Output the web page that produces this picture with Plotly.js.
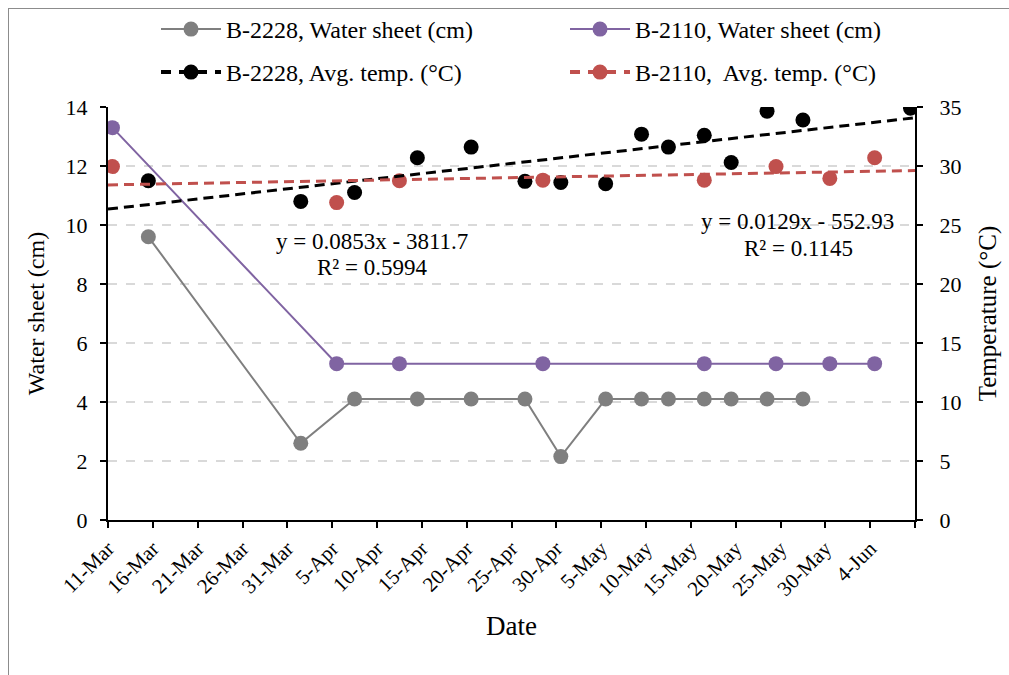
<!DOCTYPE html>
<html><head><meta charset="utf-8">
<script src="https://cdn.plot.ly/plotly-3.0.1.min.js"></script>
<style>html,body{margin:0;padding:0;background:#fff;} #chart{width:1009px;height:675px;}</style>
</head><body><div id="chart"></div>
<script>
// ---- data ----
const grayDates = ['2023-03-15','2023-04-01','2023-04-07','2023-04-14','2023-04-20','2023-04-26','2023-04-30','2023-05-05','2023-05-09','2023-05-12','2023-05-16','2023-05-19','2023-05-23','2023-05-27'];
const grayWater = [9.6, 2.6, 4.1, 4.1, 4.1, 4.1, 2.15, 4.1, 4.1, 4.1, 4.1, 4.1, 4.1, 4.1];
const purpleDates = ['2023-03-11','2023-04-05','2023-04-12','2023-04-28','2023-05-16','2023-05-24','2023-05-30','2023-06-04'];
const purpleWater = [13.3, 5.3, 5.3, 5.3, 5.3, 5.3, 5.3, 5.3];
const blackDates = ['2023-03-15','2023-04-01','2023-04-07','2023-04-14','2023-04-20','2023-04-26','2023-04-30','2023-05-05','2023-05-09','2023-05-12','2023-05-16','2023-05-19','2023-05-23','2023-05-27','2023-06-08'];
const blackTemp = [28.75, 27.0, 27.75, 30.7, 31.6, 28.7, 28.6, 28.5, 32.7, 31.6, 32.6, 30.3, 34.65, 33.9, 34.9];
const redDates = ['2023-03-11','2023-04-05','2023-04-12','2023-04-28','2023-05-16','2023-05-24','2023-05-30','2023-06-04'];
const redTemp = [29.95, 26.9, 28.75, 28.8, 28.8, 29.95, 28.95, 30.7];
const tickDates = ['2023-03-11','2023-03-16','2023-03-21','2023-03-26','2023-03-31','2023-04-05','2023-04-10','2023-04-15','2023-04-20','2023-04-25','2023-04-30','2023-05-05','2023-05-10','2023-05-15','2023-05-20','2023-05-25','2023-05-30','2023-06-04','2023-06-09'];
const tickLabels = ['11-Mar','16-Mar','21-Mar','26-Mar','31-Mar','5-Apr','10-Apr','15-Apr','20-Apr','25-Apr','30-Apr','5-May','10-May','15-May','20-May','25-May','30-May','4-Jun',''];
const seriesNames = ['B-2228, Water sheet (cm)','B-2110, Water sheet (cm)','B-2228, Avg. temp. (°C)','B-2110,  Avg. temp. (°C)'];
const eqBlack = ['y = 0.0853x - 3811.7','R² = 0.5994'];
const eqRed = ['y = 0.0129x - 552.93','R² = 0.1145'];

// ---- helpers ----
const HALF = 12*3600*1000;
const toMs = s => new Date(s + 'T00:00:00Z').getTime();
const fmt = ms => new Date(ms).toISOString().replace('T',' ').slice(0,19);
// Excel date axis "between tick marks": each tick sits half a day before its date
const tickVals = tickDates.map(d => fmt(toMs(d) - HALF));
const xRange = [tickVals[0], tickVals[tickVals.length-1]];

function trend(dates, vals) {
  const xs = dates.map(toMs), n = xs.length;
  const mx = xs.reduce((a,b)=>a+b,0)/n, my = vals.reduce((a,b)=>a+b,0)/n;
  let sxy=0, sxx=0;
  for (let i=0;i<n;i++){ sxy += (xs[i]-mx)*(vals[i]-my); sxx += (xs[i]-mx)**2; }
  const b = sxy/sxx;
  const ends = xRange.map(s => new Date(s.replace(' ','T')+'Z').getTime());
  return {x: xRange, y: ends.map(e => my + b*(e-mx))};
}
const tB = trend(blackDates, blackTemp);
const tR = trend(redDates, redTemp);

const FONT = 'Liberation Serif, Times New Roman, serif';
const GRAY = '#7f7f7f', PURPLE = '#8064a2', RED = '#c0504d', BLACK = '#000000';

const traces = [
  {x: grayDates, y: grayWater, name: seriesNames[0], mode: 'lines+markers', yaxis: 'y', legend: 'legend',
   line: {color: GRAY, width: 2}, marker: {color: GRAY, size: 15}},
  {x: purpleDates, y: purpleWater, name: seriesNames[1], mode: 'lines+markers', yaxis: 'y', legend: 'legend2',
   line: {color: PURPLE, width: 2}, marker: {color: PURPLE, size: 15}},
  {x: blackDates, y: blackTemp, name: seriesNames[2], mode: 'markers', yaxis: 'y2', showlegend: false,
   marker: {color: BLACK, size: 15}},
  {x: redDates, y: redTemp, name: seriesNames[3], mode: 'markers', yaxis: 'y2', showlegend: false,
   marker: {color: RED, size: 15}},
  {x: tB.x, y: tB.y, mode: 'lines', yaxis: 'y2', showlegend: false, hoverinfo: 'skip',
   line: {color: BLACK, width: 3, dash: '10px,6px'}},
  {x: tR.x, y: tR.y, mode: 'lines', yaxis: 'y2', showlegend: false, hoverinfo: 'skip',
   line: {color: RED, width: 3, dash: '10px,6px'}},
  {x: [null], y: [null], name: seriesNames[2], mode: 'lines+markers', yaxis: 'y2', legend: 'legend3',
   line: {color: BLACK, width: 4, dash: '10px,8px'}, marker: {color: BLACK, size: 15}},
  {x: [null], y: [null], name: seriesNames[3], mode: 'lines+markers', yaxis: 'y2', legend: 'legend4',
   line: {color: RED, width: 4, dash: '10px,8px'}, marker: {color: RED, size: 15}}
];

const W = 1009, H = 675, ML = 108, MR = 94, MT = 107, MB = 155;
const PW = W-ML-MR, PH = H-MT-MB;
const px = v => (v-ML)/PW, py = v => (H-MB-v)/PH;

const legendBase = {orientation: 'h', xref: 'container', yref: 'container', xanchor: 'left', yanchor: 'top',
  itemwidth: 60, bgcolor: 'rgba(0,0,0,0)', font: {family: FONT, size: 24, color: '#000'}};
const leg = (lx, ly) => Object.assign({}, legendBase, {x: lx/W, y: 1-ly/H});

const annFont = {family: FONT, size: 23, color: '#000'};
const ann = (x, y, t) => ({xref: 'paper', yref: 'paper', x: px(x), y: py(y), xanchor: 'center', yanchor: 'middle',
  text: t, showarrow: false, font: annFont});

const layout = {
  width: W, height: H,
  margin: {l: ML, r: MR, t: MT, b: MB, autoexpand: false},
  paper_bgcolor: '#fff', plot_bgcolor: '#fff',
  font: {family: FONT, size: 22, color: '#000'},
  showlegend: true,
  legend: leg(156, 7),
  legend2: leg(565, 7),
  legend3: leg(156, 50),
  legend4: leg(565, 50),
  xaxis: {
    type: 'date', range: xRange, tickmode: 'array', tickvals: tickVals, ticktext: tickLabels,
    tickangle: -45, ticks: 'outside', ticklen: 6, tickwidth: 2, tickcolor: '#000',
    showline: true, linecolor: '#000', linewidth: 2, showgrid: false, zeroline: false,
    tickfont: {family: FONT, size: 21, color: '#000'},
    title: {text: 'Date', font: {family: FONT, size: 27, color: '#000'}, standoff: 16},
    automargin: false
  },
  yaxis: {
    range: [0, 14], dtick: 2, tick0: 0, ticks: 'outside', ticklen: 6, tickwidth: 2, tickcolor: '#000',
    showline: true, linecolor: '#000', linewidth: 2, zeroline: false,
    showgrid: true, gridcolor: '#d9d9d9', gridwidth: 1.5, griddash: 'dash',
    tickfont: {family: FONT, size: 22, color: '#000'}, ticklabelstandoff: 8,
    title: {text: 'Water sheet (cm)', font: {family: FONT, size: 24, color: '#000'}, standoff: 14},
    automargin: false
  },
  yaxis2: {
    overlaying: 'y', side: 'right', range: [0, 35], dtick: 5, tick0: 0,
    ticks: 'outside', ticklen: 6, tickwidth: 2, tickcolor: '#000',
    showline: true, linecolor: '#000', linewidth: 2, zeroline: false, showgrid: false,
    tickfont: {family: FONT, size: 22, color: '#000'}, ticklabelstandoff: 12,
    title: {text: 'Temperature (°C)', font: {family: FONT, size: 25, color: '#000'}, standoff: 18},
    automargin: false
  },
  annotations: [
    ann(372, 241, eqBlack[0]),
    ann(372, 267, eqBlack[1]),
    ann(797, 221, eqRed[0]),
    ann(798, 248, eqRed[1])
  ],
  shapes: [
    {type: 'line', xref: 'paper', yref: 'paper', x0: px(8), x1: px(1010), y0: py(8.5), y1: py(8.5), line: {color: '#8c8c8c', width: 1}},
    {type: 'line', xref: 'paper', yref: 'paper', x0: px(8.5), x1: px(8.5), y0: py(8), y1: py(676), line: {color: '#8c8c8c', width: 1}}
  ]
};

Plotly.newPlot('chart', traces, layout, {staticPlot: true, displayModeBar: false});
</script>
</body></html>
